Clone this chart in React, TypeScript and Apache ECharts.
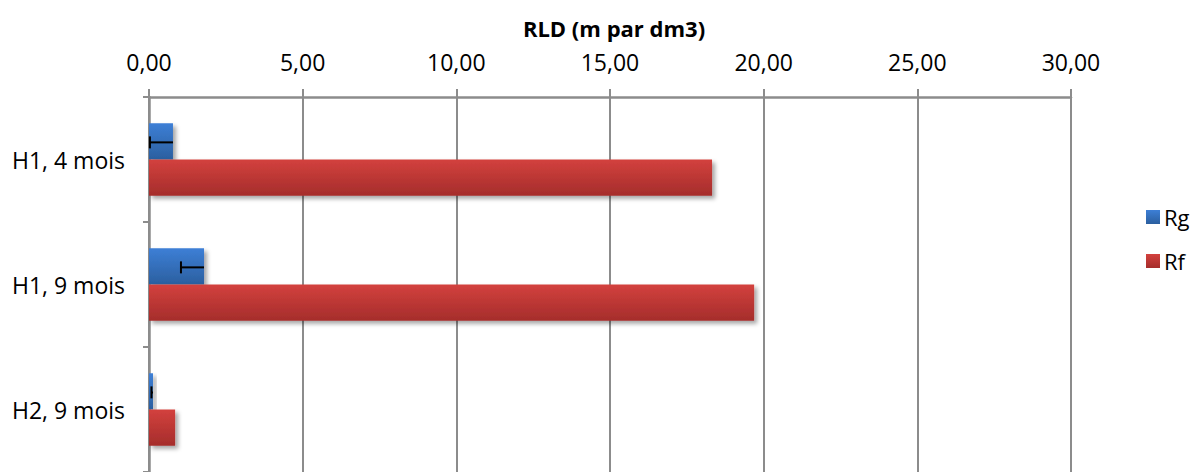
import React, { useEffect, useRef } from "react";
import * as echarts from "echarts";

const categories = ["H1, 4 mois", "H1, 9 mois", "H2, 9 mois"];
const rgValues = [0.78, 1.79, 0.13];
const rgErrors = [0.75, 0.75, 0.05];
const rfValues = [18.32, 19.69, 0.85];
const xTicks = [0, 5, 10, 15, 20, 25, 30];

const FONT = "'Open Sans', sans-serif";
const GAP = 0.42;

export default function App() {
  const ref = useRef<HTMLDivElement>(null);
  useEffect(() => {
    if (!ref.current) return;
    const chart = echarts.init(ref.current, null, { renderer: "svg" });
    const blue = new echarts.graphic.LinearGradient(0, 0, 0, 1, [
      { offset: 0, color: "#3d7fd6" },
      { offset: 1, color: "#2b5f9f" },
    ]);
    const red = new echarts.graphic.LinearGradient(0, 0, 0, 1, [
      { offset: 0, color: "#d3413e" },
      { offset: 1, color: "#a52d2b" },
    ]);
    const shadow = {
      shadowColor: "rgba(0,0,0,0.35)",
      shadowBlur: 4,
      shadowOffsetX: 3,
      shadowOffsetY: 3,
    };
    chart.setOption({
      animation: false,
      backgroundColor: "#ffffff",
      title: {
        text: "RLD (m par dm3)",
        left: 609,
        textAlign: "center",
        top: 12,
        textStyle: { fontFamily: FONT, fontSize: 22, fontWeight: "bold", color: "#000" },
      },
      legend: {
        data: ["Rg", "Rf"],
        orient: "vertical",
        left: 1141,
        top: 201,
        itemWidth: 14,
        itemHeight: 14,
        itemGap: 22,
        icon: "rect",
        textStyle: { fontFamily: FONT, fontSize: 22, color: "#000", padding: [0, 0, 0, -1] },
      },
      grid: { left: 149, right: 124, top: 97, bottom: -3, containLabel: false },
      xAxis: {
        type: "value",
        position: "top",
        min: 0,
        max: 30,
        interval: 5,
        axisLine: { show: true, lineStyle: { color: "#8c8c8c", width: 2.5 } },
        axisTick: { show: true, length: 8, lineStyle: { color: "#8c8c8c", width: 2 } },
        splitLine: { show: true, lineStyle: { color: "#8c8c8c", width: 2 } },
        axisLabel: {
          fontFamily: FONT,
          fontSize: 23,
          color: "#000",
          margin: 24,
          formatter: (v: number) => (xTicks.includes(v) ? v.toFixed(2).replace(".", ",") : ""),
        },
      },
      yAxis: {
        type: "category",
        data: categories,
        inverse: true,
        axisLine: { show: true, lineStyle: { color: "#8c8c8c", width: 2.5 } },
        axisTick: { show: true, length: 6, lineStyle: { color: "#8c8c8c", width: 2 } },
        axisLabel: { fontFamily: FONT, fontSize: 23, color: "#000", margin: 24 },
      },
      series: [
        {
          name: "Rg",
          type: "bar",
          data: rgValues,
          barCategoryGap: GAP * 100 + "%",
          barGap: "0%",
          itemStyle: { color: blue, ...shadow },
        },
        {
          name: "Rf",
          type: "bar",
          data: rfValues,
          barCategoryGap: GAP * 100 + "%",
          barGap: "0%",
          itemStyle: { color: red, ...shadow },
        },
        {
          name: "err",
          type: "custom",
          z: 10,
          data: rgValues.map((v, i) => [v, rgErrors[i], i]),
          encode: { x: 0, y: 2 },
          renderItem: (params: any, api: any) => {
            const v = api.value(0);
            const e = api.value(1);
            const c = api.value(2);
            const p1 = api.coord([v, c]);
            const p0 = api.coord([v - e, c]);
            const band = api.size([0, 1])[1];
            const barH = (band * (1 - GAP)) / 2;
            const y = p1[1] - barH / 2 + 1;
            const style = { stroke: "#000", lineWidth: 2 };
            return {
              type: "group",
              children: [
                { type: "line", shape: { x1: p0[0], y1: y, x2: p1[0], y2: y }, style },
                { type: "line", shape: { x1: p0[0], y1: y - 6, x2: p0[0], y2: y + 6 }, style },
              ],
            };
          },
        },
      ],
    });
    return () => chart.dispose();
  }, []);
  return (
    <div
      ref={ref}
      style={{ position: "fixed", left: 0, top: 0, width: 1195, height: 472 }}
    />
  );
}
